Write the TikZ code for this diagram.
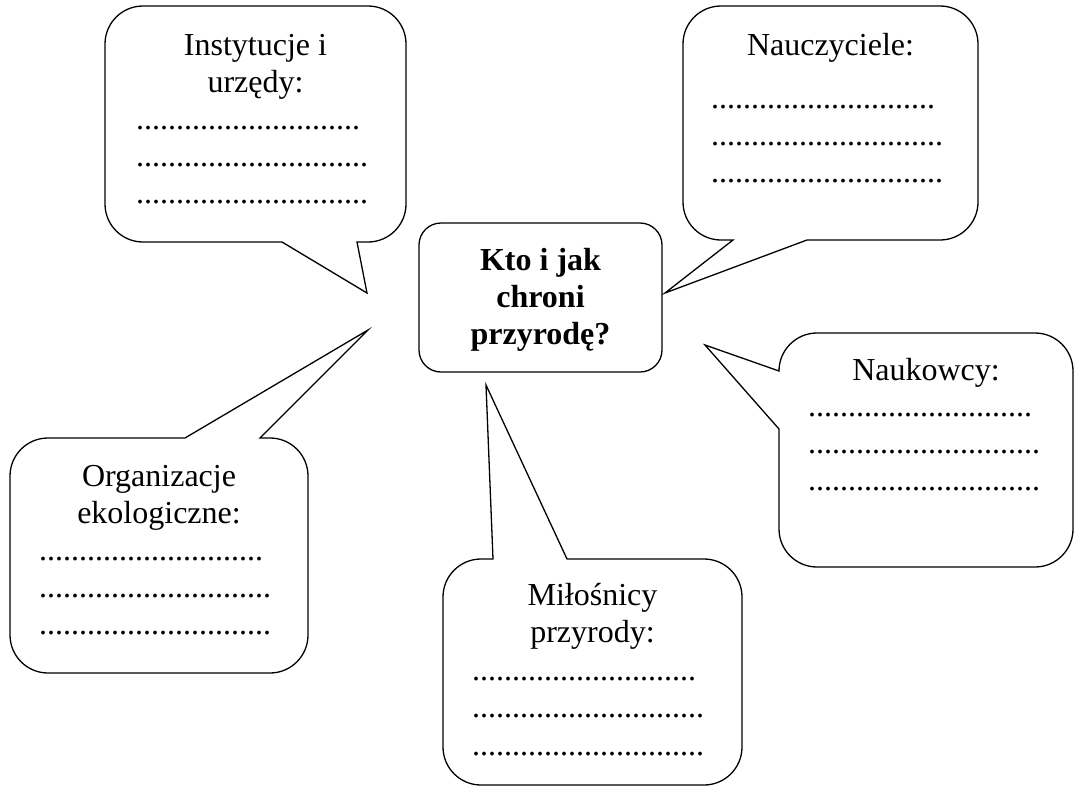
\documentclass[tikz,border=0pt]{standalone}
\usepackage{fontspec}
\setmainfont{Liberation Serif}

\begin{document}
\begin{tikzpicture}
      [%%%%%%%%%%%%%%%%%%%%%%%%%%%%%%
      x=1pt,y=-1pt,
      bubble/.style={draw=black,line width=1.3pt,line join=miter},
      rund/.style={rounded corners=38pt},
      mainbox/.style={rectangle,draw=black,line width=1.3pt,rounded corners=22pt,
                      minimum width=243pt,minimum height=149pt,inner sep=0pt},
      txt/.style={inner sep=0pt,anchor=base,font=\fontsize{32}{37}\selectfont},
      bold/.style={txt,font=\fontsize{32}{37}\selectfont\bfseries},
      dots/.style={txt,anchor=base west},
      ]%%%%%%%%%%%%%%%%%%%%%%%%%%%%%%
      \useasboundingbox (0,0) rectangle (1075,787);

      % dymki (od czubka ogonka)
      \draw[bubble] (367,293) -- (357,242) [rund] -- (406,242) -- (406,6) -- (105,6) -- (105,242) [sharp corners] -- (282,242) -- cycle;
      \draw[bubble] (665,293) -- (807,240) [rund] -- (978,240) -- (978,6) -- (683,6) -- (683,240) [sharp corners] -- (733,240) -- cycle;
      \draw[bubble] (368,330) -- (260,438) [rund] -- (308,438) -- (308,673) -- (10,673) -- (10,438) [sharp corners] -- (185,438) -- cycle;
      \draw[bubble] (705,345) -- (779,429) [rund] -- (779,567) -- (1073,567) -- (1073,333) -- (779,333) [sharp corners] -- (779,371) -- cycle;
      \draw[bubble] (486,385) -- (567,559) [rund] -- (742,559) -- (742,785) -- (443,785) -- (443,559) [sharp corners] -- (493,559) -- cycle;

      % srodek
      \node[mainbox] (srodek) at (540.5,297.5) {};
      \node[bold] (pyt1) at (540.5,270) {Kto i jak};
      \node[bold] (pyt2) at (540.5,307) {chroni};
      \node[bold] (pyt3) at (540.5,344) {przyrodę?};

      % Instytucje i urzedy
      \node[txt] (inst1) at (255.5,55) {Instytucje i};
      \node[txt] (inst2) at (255.5,92) {urzędy:};
      \node[dots] (instA) at (136,129) {............................};
      \node[dots] (instB) at (136,166) {.............................};
      \node[dots] (instC) at (136,203) {.............................};

      % Nauczyciele
      \node[txt] (naucz) at (830.5,55) {Nauczyciele:};
      \node[dots] (nauczA) at (711,108) {............................};
      \node[dots] (nauczB) at (711,145) {.............................};
      \node[dots] (nauczC) at (711,182) {.............................};

      % Organizacje ekologiczne
      \node[txt] (org1) at (159,486) {Organizacje};
      \node[txt] (org2) at (159,523) {ekologiczne:};
      \node[dots] (orgA) at (39,560) {............................};
      \node[dots] (orgB) at (39,597) {.............................};
      \node[dots] (orgC) at (39,634) {.............................};

      % Naukowcy
      \node[txt] (nauk) at (926,380) {Naukowcy:};
      \node[dots] (naukA) at (808,416) {............................};
      \node[dots] (naukB) at (808,453) {.............................};
      \node[dots] (naukC) at (808,490) {.............................};

      % Milosnicy przyrody
      \node[txt] (mil1) at (592.5,605) {Miłośnicy};
      \node[txt] (mil2) at (592.5,642) {przyrody:};
      \node[dots] (milA) at (472,680) {............................};
      \node[dots] (milB) at (472,717) {.............................};
      \node[dots] (milC) at (472,755) {.............................};
    \end{tikzpicture}
\end{document}
